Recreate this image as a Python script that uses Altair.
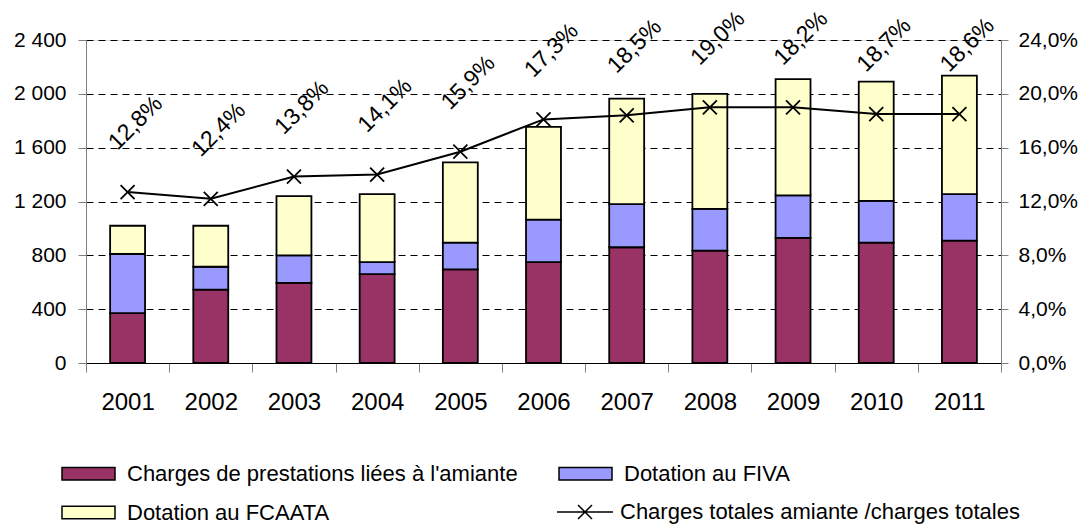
import altair as alt
import pandas as pd

years = ["2001", "2002", "2003", "2004", "2005", "2006", "2007", "2008", "2009", "2010", "2011"]
prestations = [370, 545, 595, 660, 695, 750, 860, 835, 930, 895, 910]
fiva = [440, 170, 205, 90, 200, 315, 320, 310, 315, 310, 345]
fcaata = [210, 305, 440, 505, 595, 690, 785, 855, 865, 885, 880]
ratio = [12.7, 12.2, 13.85, 14.0, 15.7, 18.1, 18.4, 19.0, 19.0, 18.5, 18.5]
ratio_labels = ["12,8%", "12,4%", "13,8%", "14,1%", "15,9%", "17,3%", "18,5%", "19,0%", "18,2%", "18,7%", "18,6%"]

series_names = ["Charges de prestations liées à l'amiante", "Dotation au FIVA", "Dotation au FCAATA"]
series_colors = ["#993366", "#9999FF", "#FFFFCC"]
line_name = "Charges totales amiante /charges totales"

left_ticks = [0, 400, 800, 1200, 1600, 2000, 2400]
right_ticks = [0, 4, 8, 12, 16, 20, 24]

FONT = "Liberation Sans"
RECT = "M-1,-0.24H1V0.24H-1Z"
CROSS = "M-1,-1L1,1M-1,1L1,-1"
LINE_CROSS = "M-1,0H1M-0.25,-0.25L0.25,0.25M-0.25,0.25L0.25,-0.25"

rows = []
for i, yr in enumerate(years):
    base = 0
    for name, vals in zip(series_names, [prestations, fiva, fcaata]):
        rows.append({"year": yr, "series": name, "y0": base, "y1": base + vals[i]})
        base += vals[i]
bars_df = pd.DataFrame(rows)
line_df = pd.DataFrame({"year": years, "ratio": ratio, "label": ratio_labels, "name": line_name})

x_enc = alt.X(
    "year:N",
    sort=years,
    scale=alt.Scale(paddingInner=0, paddingOuter=0),
    axis=alt.Axis(
        title=None, labelAngle=0, labelFontSize=24, labelFont=FONT, labelColor="black",
        labelPadding=18, tickBand="extent", tickSize=9, tickColor="#808080",
        domainColor="black", grid=False,
    ),
)

bars = alt.Chart(bars_df).mark_bar(
    width={"band": 0.42}, stroke="black", strokeWidth=1.8
).encode(
    x=x_enc,
    y=alt.Y(
        "y0:Q",
        scale=alt.Scale(domain=[0, 2400], nice=False),
        axis=alt.Axis(
            title=None, values=left_ticks,
            labelExpr="replace(format(datum.value, ','), ',', ' ')",
            labelFontSize=21, labelFont=FONT, labelColor="black", labelPadding=12,
            tickSize=8, tickColor="#808080", domainColor="#808080",
            grid=True, gridDash=[7, 5], gridColor="black", gridWidth=1,
        ),
    ),
    y2="y1:Q",
    color=alt.Color(
        "series:N",
        scale=alt.Scale(domain=series_names, range=series_colors),
        legend=alt.Legend(
            orient="none", legendX=-25, legendY=406, title=None, columns=2,
            direction="horizontal",
            columnPadding=38, rowPadding=-14, padding=0,
            symbolType=RECT, symbolSize=2809, symbolStrokeColor="black",
            symbolStrokeWidth=1.5, symbolOpacity=1,
            labelFontSize=22, labelFont=FONT, labelColor="black", labelOffset=11,
            labelLimit=0,
        ),
    ),
)

y_right = alt.Y(
    "ratio:Q",
    scale=alt.Scale(domain=[0, 24], nice=False),
    axis=alt.Axis(
        orient="right", title=None, values=right_ticks,
        labelExpr="replace(format(datum.value, '.1f'), '.', ',') + '%'",
        labelFontSize=21, labelFont=FONT, labelColor="black", labelPadding=10,
        tickSize=7, tickColor="#808080", domainColor="#808080", grid=False,
    ),
)

stroke_enc = alt.Stroke(
    "name:N",
    scale=alt.Scale(domain=[line_name], range=["black"]),
    legend=alt.Legend(
        orient="none", legendX=470, legendY=443, title=None, padding=0,
        symbolType=LINE_CROSS, symbolSize=3136, symbolStrokeWidth=1.5,
        symbolFillColor="transparent", symbolOpacity=1,
        labelFontSize=22, labelFont=FONT, labelColor="black", labelOffset=6,
        labelLimit=0,
    ),
)

line = alt.Chart(line_df).mark_line(strokeWidth=2).encode(x=x_enc, y=y_right, stroke=stroke_enc)
points = alt.Chart(line_df).mark_point(
    shape=CROSS, size=196, filled=False, strokeWidth=1.8, opacity=1
).encode(x=x_enc, y=y_right, stroke=stroke_enc)
labels = alt.Chart(line_df).mark_text(
    angle=315, align="center", baseline="middle", fontSize=23, font=FONT,
    color="black", xOffset=8, yOffset=-69,
).encode(x=x_enc, y=y_right, text="label:N")

right = alt.layer(line, points, labels)

chart = alt.layer(bars, right).resolve_scale(y="independent").properties(
    width=915, height=323,
    autosize=alt.AutoSizeParams(type="none"),
    padding={"left": 78, "top": 32, "right": 78, "bottom": 166},
).configure_view(strokeWidth=0).configure(background="white")

chart.save("out.html", embed_options={"renderer": "svg", "actions": False})
